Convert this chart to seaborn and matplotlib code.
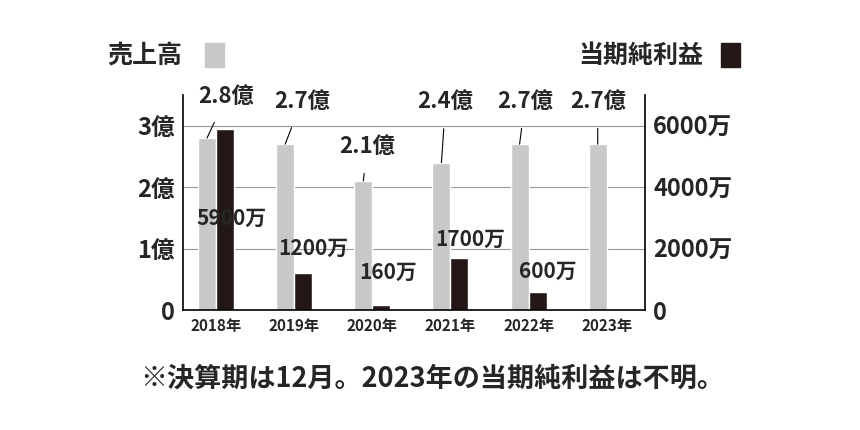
import matplotlib
matplotlib.use("Agg")
import matplotlib.pyplot as plt
import seaborn as sns
import pandas as pd
import numpy as np

years = ["2018年", "2019年", "2020年", "2021年", "2022年", "2023年"]
sales = [2.8, 2.7, 2.1, 2.4, 2.7, 2.7]            # 億
profit = [5900, 1200, 160, 1700, 600, np.nan]    # 万
sales_labels = ["2.8億", "2.7億", "2.1億", "2.4億", "2.7億", "2.7億"]
profit_labels = ["5900万", "1200万", "160万", "1700万", "600万", ""]

sns.set_theme(style="white")
plt.rcParams['font.family'] = ['Noto Sans CJK JP', 'DejaVu Sans']
plt.rcParams['font.weight'] = 'bold'

df = pd.DataFrame({
    "year": years * 2,
    "series": ["売上高"] * 6 + ["当期純利益"] * 6,
    "value": sales + [p / 2000 for p in profit],
})

fig = plt.figure(figsize=(8.6, 4.3), dpi=100)
ax = fig.add_axes([0.213, 0.279, 0.537, 0.50])
sns.barplot(data=df, x="year", y="value", hue="series", ax=ax,
            palette=["#c8c8c8", "#231815"], width=0.46, gap=0, legend=False,
            saturation=1)
ax.set_xlim(-0.42, 5.49)
ax.set_ylim(0, 3.5)
ax.set_yticks([0, 1, 2, 3])
ax.set_yticklabels(["0", "1億", "2億", "3億"], fontsize=17)
for y in [1, 2, 3]:
    ax.axhline(y, color="#999999", lw=0.8, zorder=0)
ax.set_xlabel(""); ax.set_ylabel("")
ax.tick_params(axis='x', labelsize=11, length=0, pad=6)
ax.tick_params(axis='y', length=0, pad=6)
for s in ["left", "right", "bottom"]:
    ax.spines[s].set_color("black"); ax.spines[s].set_linewidth(1.2)
ax.spines["top"].set_visible(False)

ax2 = ax.twinx()
ax2.set_ylim(0, 7000)
ax2.set_yticks([0, 2000, 4000, 6000])
ax2.set_yticklabels(["0", "2000万", "4000万", "6000万"], fontsize=17)
ax2.tick_params(axis='y', length=0, pad=6)
for s in ax2.spines.values():
    s.set_visible(False)

# sales labels with leader lines
s_off = [(14, 30), (12, 31), (3, 25), (3, 44), (4, 31), (0, 31)]
for i, (v, lab) in enumerate(zip(sales, sales_labels)):
    ax.annotate(lab, xy=(i - 0.115, v), xytext=s_off[i], textcoords="offset points",
                ha="center", va="center", fontsize=16,
                arrowprops=dict(arrowstyle="-", color="black", lw=0.8,
                                shrinkA=9, shrinkB=0))
# profit labels
p_pos = [(0.2, 1.5), (1.25, 1.0), (2.2, 0.62), (3.25, 1.15), (4.25, 0.63)]
for i, (v, lab) in enumerate(zip(profit[:5], profit_labels[:5])):
    ax.text(p_pos[i][0], p_pos[i][1], lab, ha="center", va="center", fontsize=15)

# legend texts
fig.text(0.125, 0.87, "売上高", fontsize=18, ha="left", va="center")
fig.patches.append(plt.Rectangle((0.238, 0.845), 0.022, 0.055, transform=fig.transFigure,
                                 color="#c8c8c8", figure=fig))
fig.text(0.672, 0.87, "当期純利益", fontsize=18, ha="left", va="center")
fig.patches.append(plt.Rectangle((0.838, 0.845), 0.022, 0.055, transform=fig.transFigure,
                                 color="#231815", figure=fig))
fig.text(0.163, 0.12, "※決算期は12月。2023年の当期純利益は不明。", fontsize=19.5,
         ha="left", va="center")

fig.savefig("out.png", dpi=100, facecolor="white")
